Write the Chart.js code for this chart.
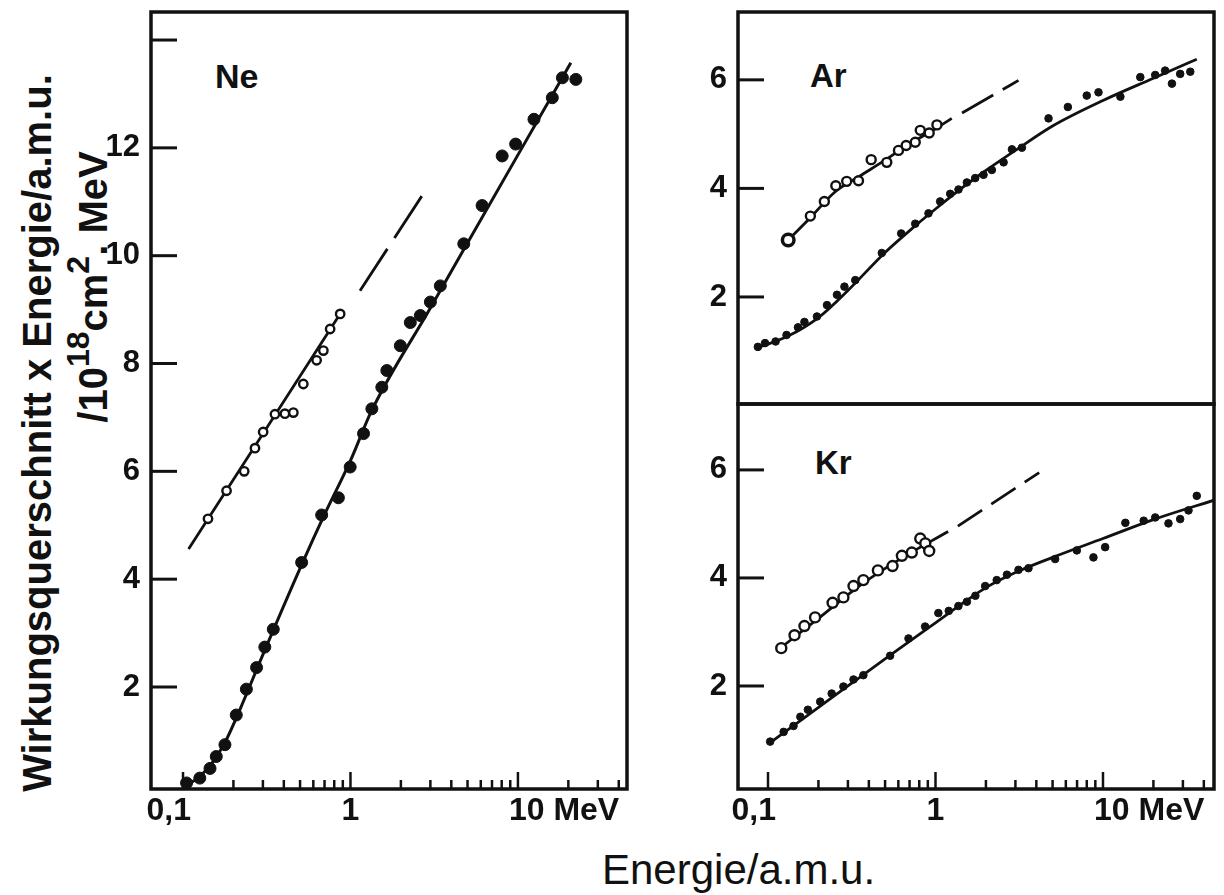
<!DOCTYPE html>
<html>
<head>
<meta charset="utf-8">
<script src="https://cdn.jsdelivr.net/npm/chart.js@4.4.0/dist/chart.umd.min.js"></script>
<style>
  body { margin: 0; background: #fff; width: 1224px; height: 895px; position: relative; overflow: hidden;
         font-family: "Liberation Sans", Arial, sans-serif; color: #111; }
  canvas { position: absolute; }
  #ne { left: 60px; top: 0; }
  #ar { left: 660px; top: 0; }
  #kr { left: 660px; top: 380px; }
  .rot { position: absolute; white-space: nowrap; line-height: 1; font-weight: bold;
         transform: translate(-50%, -50%) rotate(-90deg); }
  .rot .sup { font-size: 0.8em; position: relative; top: -0.55em; }
  .tag { position: absolute; line-height: 1; font-weight: bold;
         font-family: "Liberation Sans Narrow", "Liberation Sans", Arial, sans-serif; }
  #xtitle { position: absolute; left: 602px; top: 849px; font-size: 42px; line-height: 1; }
</style>
</head>
<body>
<div class="rot" style="left:37px; top:433px; font-size:40px;">Wirkungsquerschnitt x Energie/a.m.u.</div>
<div class="rot" style="left:93px; top:287px; font-size:40px;">/10<span class="sup">18</span>cm<span class="sup">2</span>. MeV</div>
<div class="tag" style="left:215px; top:59px; font-size:34px;">Ne</div>
<div class="tag" style="left:810px; top:59px; font-size:33px;">Ar</div>
<div class="tag" style="left:815px; top:446px; font-size:33px;">Kr</div>
<div id="xtitle">Energie/a.m.u.</div>

<canvas id="ne" width="600" height="840"></canvas>
<canvas id="ar" width="564" height="420"></canvas>
<canvas id="kr" width="564" height="460"></canvas>

<script>
const INK = '#111';

// shared log axis
const xMajorTicks = [0.1, 1, 10];
const xMinorTicks = [0.2, 0.3, 0.4, 0.5, 0.6, 0.7, 0.8, 0.9, 2, 3, 4, 5, 6, 7, 8, 9, 20, 30, 40];
const xTickLabels = ['0,1', '1', '10 MeV'];

// Ne
const neTicks = [2, 4, 6, 8, 10, 12, 14];
const neLabels = [2, 4, 6, 8, 10, 12];
const neOpenX = [0.141, 0.182, 0.232, 0.269, 0.301, 0.354, 0.406, 0.456, 0.523, 0.628, 0.689, 0.756, 0.868];
const neOpenY = [5.12, 5.64, 6.00, 6.43, 6.73, 7.06, 7.07, 7.09, 7.62, 8.06, 8.24, 8.64, 8.92];
const neOpenFitX = [0.108, 0.88];
const neOpenFitY = [4.56, 8.95];
const neOpenDashX = [1.14, 2.93];
const neOpenDashY = [9.35, 11.30];
const neX = [0.105, 0.126, 0.145, 0.158, 0.178, 0.208, 0.239, 0.275, 0.308, 0.346, 0.511, 0.673, 0.847, 0.996,
             1.197, 1.342, 1.539, 1.649, 1.985, 2.277, 2.614, 3.0, 3.44, 4.75, 6.11, 8.05, 9.69, 12.47, 16.04, 18.43, 22.17];
const neY = [0.22, 0.31, 0.49, 0.71, 0.93, 1.48, 1.96, 2.36, 2.74, 3.07, 4.31, 5.19, 5.51, 6.08,
             6.70, 7.16, 7.56, 7.87, 8.33, 8.76, 8.89, 9.14, 9.44, 10.22, 10.93, 11.85, 12.07, 12.53, 12.93, 13.30, 13.27];
const neFitX = [0.105, 0.125, 0.15, 0.18, 0.22, 0.3, 0.5, 0.7, 1.0, 1.34, 3.0, 10, 20.7];
const neFitY = [0.18, 0.33, 0.6, 1.0, 1.6, 2.6, 4.2, 5.2, 6.2, 7.13, 9.03, 11.87, 13.58];

// Ar
const arTicks = [2, 4, 6];
const arOpenX = [0.132, 0.179, 0.217, 0.254, 0.295, 0.347, 0.413, 0.512, 0.601, 0.668, 0.757, 0.811, 0.917, 1.02];
const arOpenY = [3.05, 3.49, 3.76, 4.05, 4.13, 4.14, 4.53, 4.48, 4.70, 4.79, 4.85, 5.07, 5.02, 5.17];
const arOpenFitX = [0.132, 0.18, 0.25, 0.35, 0.5, 0.7, 1.0, 1.25];
const arOpenFitY = [3.05, 3.47, 3.93, 4.22, 4.52, 4.82, 5.10, 5.29];
const arOpenDashX = [1.44, 3.13];
const arOpenDashY = [5.39, 5.99];
const arX = [0.087, 0.096, 0.111, 0.129, 0.151, 0.165, 0.196, 0.225, 0.258, 0.286, 0.332, 0.478, 0.624, 0.757, 0.908,
             1.066, 1.224, 1.372, 1.539, 1.726, 1.935, 2.17, 2.55, 2.86, 3.28, 4.73, 6.17, 8.0, 9.4, 12.7, 16.7, 20.5,
             23.5, 25.8, 28.9, 33.2];
const arY = [1.08, 1.15, 1.18, 1.30, 1.44, 1.54, 1.64, 1.85, 2.04, 2.19, 2.31, 2.81, 3.17, 3.35, 3.54,
             3.76, 3.90, 3.98, 4.11, 4.19, 4.25, 4.34, 4.48, 4.72, 4.75, 5.29, 5.50, 5.71, 5.77, 5.69, 6.05, 6.09,
             6.17, 5.93, 6.11, 6.15];
const arFitX = [0.084, 0.13, 0.2, 0.3, 0.5, 0.75, 1.0, 1.5, 2.0, 3.0, 5.0, 10, 20, 36.3];
const arFitY = [1.05, 1.27, 1.62, 2.12, 2.82, 3.30, 3.62, 4.05, 4.33, 4.70, 5.15, 5.62, 6.03, 6.38];

// Kr
const krTicks = [2, 4, 6];
const krOpenX = [0.12, 0.144, 0.165, 0.191, 0.243, 0.282, 0.324, 0.371, 0.453, 0.554, 0.63, 0.722, 0.811, 0.869, 0.917];
const krOpenY = [2.70, 2.94, 3.11, 3.27, 3.54, 3.64, 3.85, 3.96, 4.14, 4.22, 4.41, 4.47, 4.73, 4.64, 4.50];
const krOpenFitX = [0.116, 0.2, 0.35, 0.6, 1.19];
const krOpenFitY = [2.68, 3.25, 3.85, 4.33, 4.86];
const krOpenDashX = [1.36, 4.16];
const krOpenDashY = [4.96, 5.95];
const krX = [0.103, 0.124, 0.142, 0.156, 0.173, 0.205, 0.240, 0.282, 0.324, 0.371, 0.536, 0.69, 0.867, 1.04, 1.20,
             1.37, 1.54, 1.73, 1.98, 2.32, 2.67, 3.13, 3.59, 5.18, 6.98, 8.77, 10.3, 13.6, 17.5, 20.5, 24.6, 28.9,
             32.4, 36.3];
const krY = [0.97, 1.15, 1.26, 1.43, 1.56, 1.71, 1.86, 1.99, 2.12, 2.20, 2.56, 2.88, 3.10, 3.35, 3.39,
             3.48, 3.56, 3.67, 3.85, 3.96, 4.06, 4.15, 4.18, 4.35, 4.51, 4.38, 4.57, 5.02, 5.06, 5.12, 5.01, 5.09,
             5.25, 5.52];
const krFitX = [0.105, 0.3, 0.5, 1.0, 1.5, 2.0, 3.0, 5.0, 10, 20, 46];
const krFitY = [0.97, 2.00, 2.50, 3.17, 3.56, 3.82, 4.10, 4.38, 4.73, 5.08, 5.44];

const pts = (xs, ys) => xs.map((x, i) => ({ x, y: ys[i] }));

// frame, inward tick marks and x labels
const axisMarks = {
  id: 'axisMarks',
  afterDraw(chart, _args, o) {
    const { ctx, chartArea: a } = chart;
    const xs = chart.scales.x, ys = chart.scales.y;
    const seg = (x1, y1, x2, y2) => { ctx.beginPath(); ctx.moveTo(x1, y1); ctx.lineTo(x2, y2); ctx.stroke(); };
    ctx.save();
    ctx.strokeStyle = INK;
    ctx.lineWidth = 3;
    o.yMarks.forEach(v => { const p = ys.getPixelForValue(v); seg(a.left, p, a.left + 26, p); });
    if (o.xAxis) {
      ctx.lineWidth = 2.5;
      xMajorTicks.forEach(v => { const p = xs.getPixelForValue(v); seg(p, a.bottom, p, a.bottom - 17); });
      xMinorTicks.forEach(v => { const p = xs.getPixelForValue(v); seg(p, a.bottom, p, a.bottom - 9); });
      ctx.fillStyle = INK;
      ctx.font = 'bold 32px "Liberation Sans", Arial, sans-serif';
      ctx.textBaseline = 'alphabetic';
      const aligns = ['right', 'center', 'left'];
      xTickLabels.forEach((t, i) => {
        const p = xs.getPixelForValue(xMajorTicks[i]);
        ctx.textAlign = aligns[i];
        ctx.fillText(t, p + (aligns[i] === 'right' ? 8 : aligns[i] === 'left' ? -9 : 0), a.bottom + 31);
      });
    }
    ctx.lineWidth = 3.5;
    ctx.strokeRect(a.left, a.top, a.right - a.left, a.bottom - a.top);
    ctx.restore();
  }
};

function dots(data, r, open, firstR) {
  return {
    data, order: 0, showLine: false,
    pointRadius: c => (firstR && c.dataIndex === 0 ? firstR : r),
    pointHoverRadius: r,
    pointBackgroundColor: open ? '#fff' : INK,
    pointBorderColor: INK,
    pointBorderWidth: c => (open ? (firstR && c.dataIndex === 0 ? 3.5 : 2.4) : 1)
  };
}
function curve(data, width, dash) {
  return {
    data, order: 1, showLine: true, pointRadius: 0,
    borderColor: INK, borderWidth: width, borderDash: dash || [],
    cubicInterpolationMode: 'monotone', fill: false
  };
}

function panel(id, p) {
  new Chart(document.getElementById(id), {
    type: 'scatter',
    data: { datasets: p.datasets },
    plugins: [axisMarks],
    options: {
      responsive: false, animation: false, events: [],
      layout: { padding: p.padding },
      plugins: {
        legend: { display: false }, tooltip: { enabled: false },
        axisMarks: { yMarks: p.yTicks, xAxis: p.xHeight > 0 }
      },
      scales: {
        x: {
          type: 'logarithmic', min: p.xMin, max: p.xMax,
          display: p.xHeight > 0,
          afterFit: s => { s.height = p.xHeight; s.paddingLeft = 0; s.paddingRight = 0; },
          grid: { display: false, drawTicks: false }, border: { display: false },
          ticks: { display: false }
        },
        y: {
          type: 'linear', min: p.yMin, max: p.yMax,
          afterBuildTicks: s => { s.ticks = p.yTicks.map(v => ({ value: v })); },
          afterFit: s => { s.width = p.yWidth; s.paddingTop = 0; s.paddingBottom = 0; },
          grid: { display: false, drawTicks: false }, border: { display: false },
          ticks: {
            autoSkip: false, padding: 11, color: INK,
            font: { family: '"Liberation Sans", Arial, sans-serif', size: 31, weight: 'bold' },
            callback: v => (p.yLabels.includes(v) ? String(v) : '')
          }
        }
      }
    }
  });
}

panel('ne', {
  xMin: 0.0644, xMax: 44.8, yMin: 0.108, yMax: 14.52,
  yTicks: neTicks, yLabels: neLabels, yWidth: 91, xHeight: 51,
  padding: { left: 0, right: 33, top: 12, bottom: 0 },
  datasets: [
    dots(pts(neOpenX, neOpenY), 4.2, true),
    dots(pts(neX, neY), 6, false),
    curve(pts(neOpenFitX, neOpenFitY), 2.8),
    curve(pts(neOpenDashX, neOpenDashY), 2.8, [50, 13]),
    curve(pts(neFitX, neFitY), 3)
  ]
});

panel('ar', {
  xMin: 0.0662, xMax: 46, yMin: 0.028, yMax: 7.25,
  yTicks: arTicks, yLabels: arTicks, yWidth: 78, xHeight: 0,
  padding: { left: 0, right: 10, top: 12, bottom: 16 },
  datasets: [
    dots(pts(arOpenX, arOpenY), 4.5, true, 5.8),
    dots(pts(arX, arY), 3.8, false),
    curve(pts(arOpenFitX, arOpenFitY), 2.8),
    curve(pts(arOpenDashX, arOpenDashY), 2.8, [36, 11]),
    curve(pts(arFitX, arFitY), 2.8)
  ]
});

panel('kr', {
  xMin: 0.0662, xMax: 46, yMin: 0.093, yMax: 7.22,
  yTicks: krTicks, yLabels: krTicks, yWidth: 78, xHeight: 51,
  padding: { left: 0, right: 10, top: 24, bottom: 0 },
  datasets: [
    dots(pts(krOpenX, krOpenY), 5, true),
    dots(pts(krX, krY), 3.8, false),
    curve(pts(krOpenFitX, krOpenFitY), 2.8),
    curve(pts(krOpenDashX, krOpenDashY), 2.8, [29, 11]),
    curve(pts(krFitX, krFitY), 2.8)
  ]
});
</script>
</body>
</html>
